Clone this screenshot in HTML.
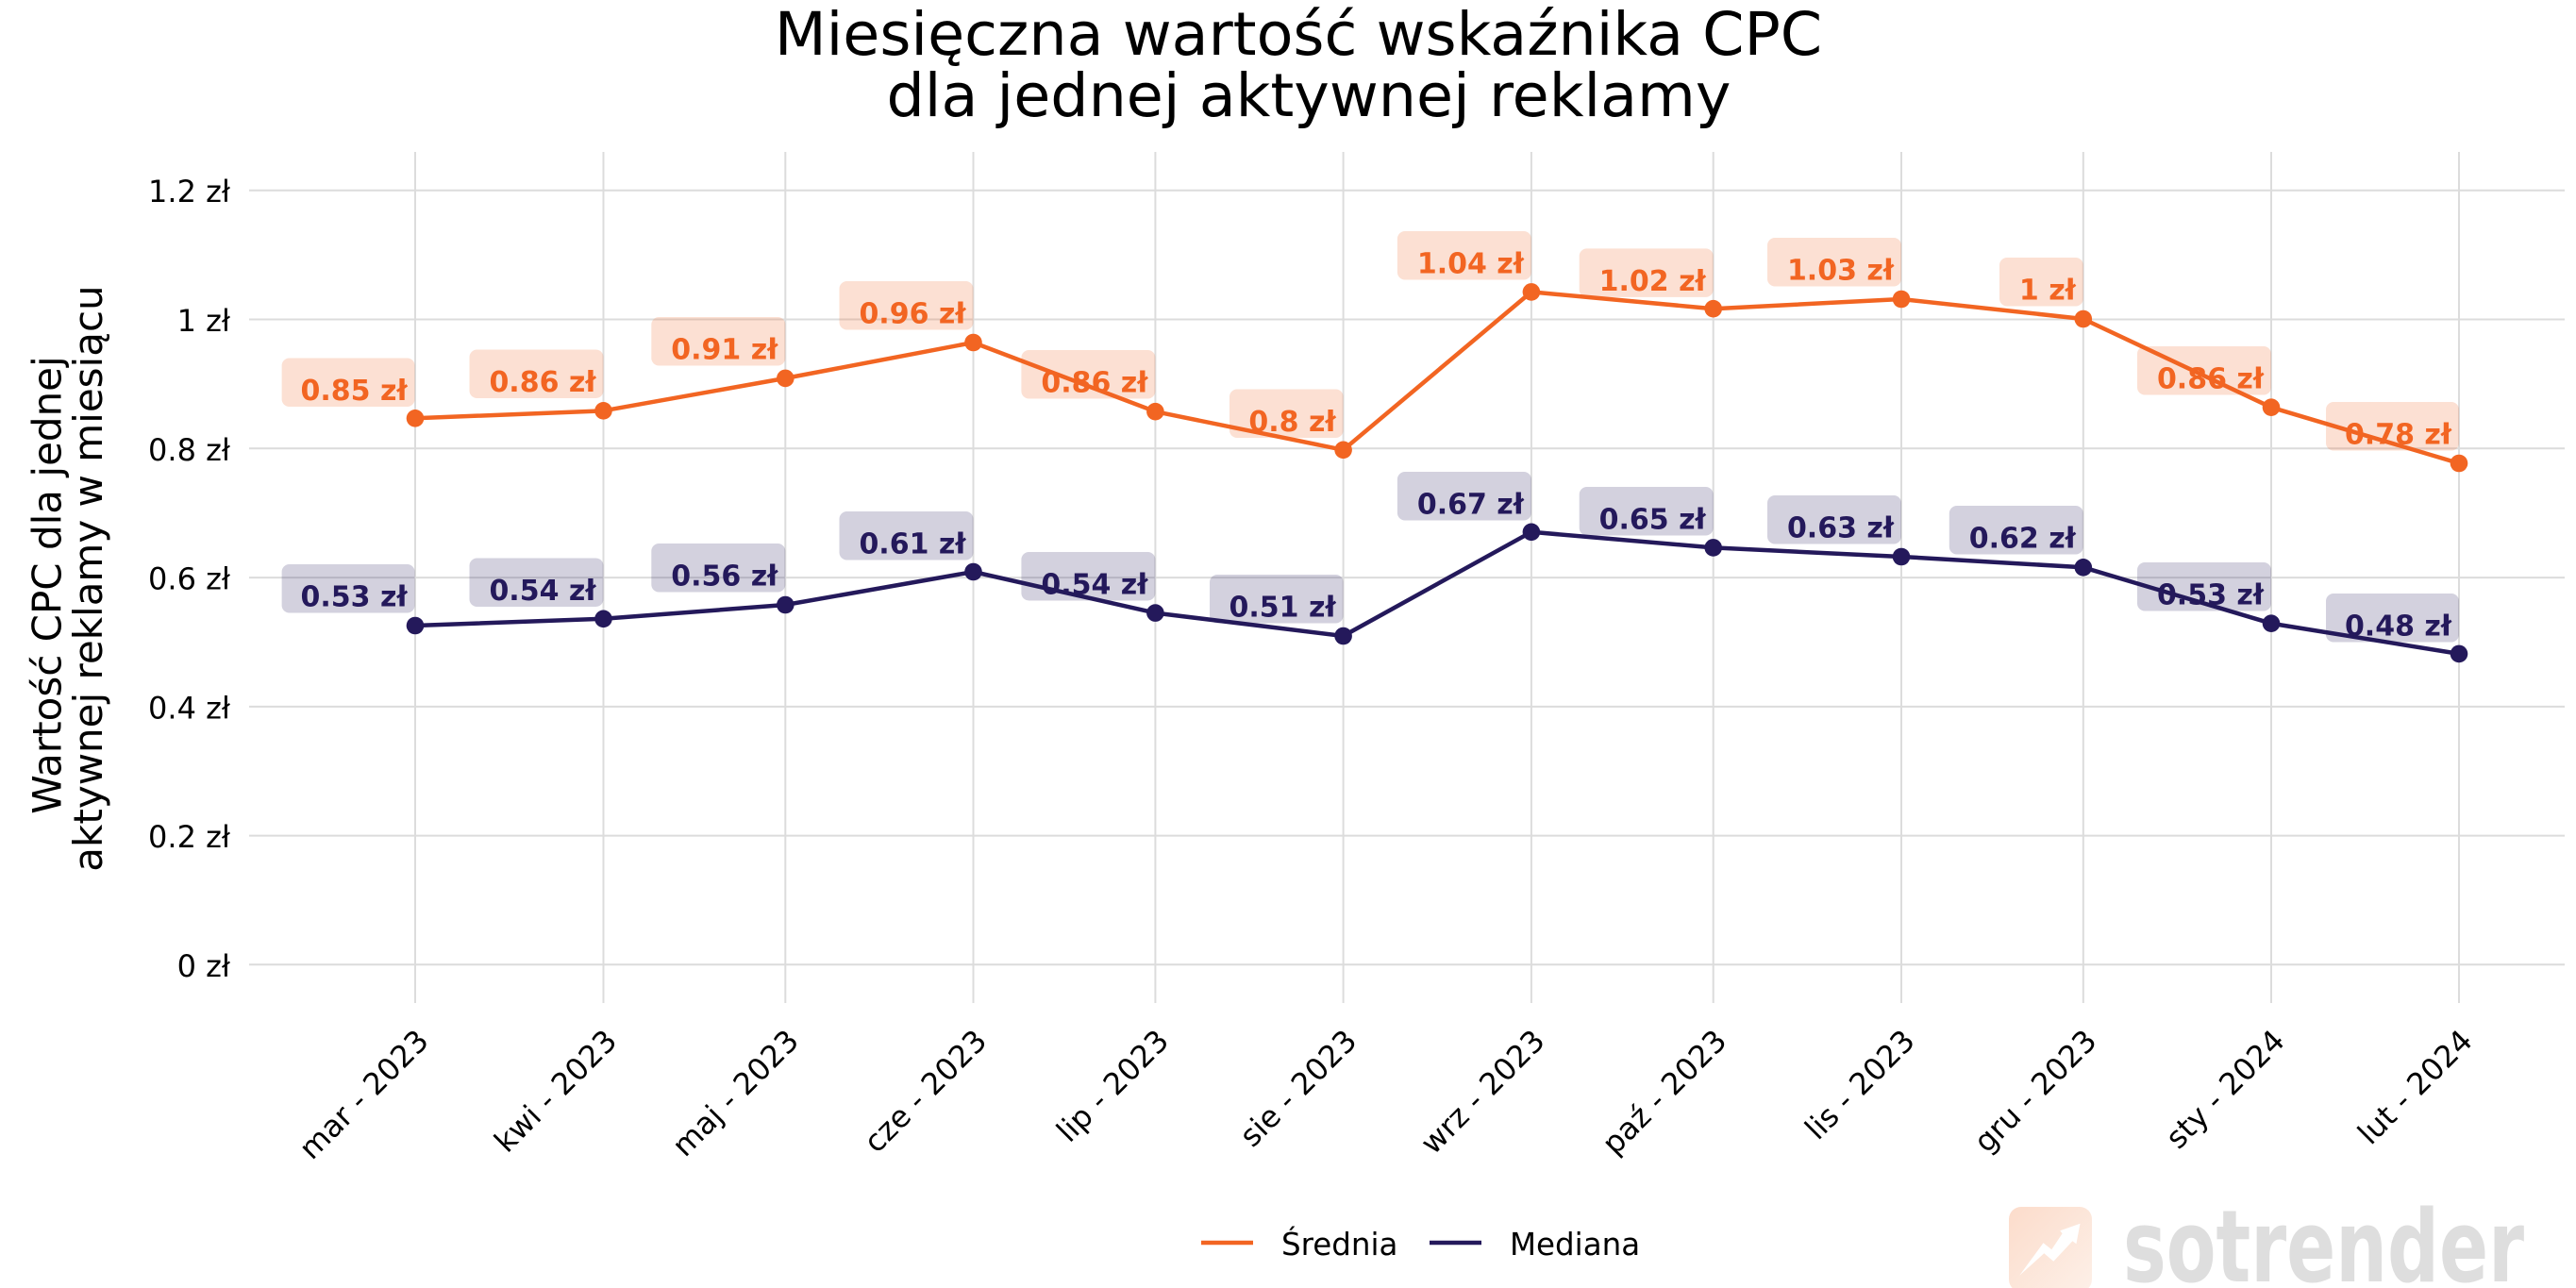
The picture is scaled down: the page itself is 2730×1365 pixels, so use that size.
<!DOCTYPE html>
<html>
<head>
<meta charset="utf-8">
<style>
  html,body{margin:0;padding:0;background:#fff;}
  svg{display:block;}
  text{font-family:"DejaVu Sans","Liberation Sans",sans-serif;}
</style>
</head>
<body>
<svg xmlns="http://www.w3.org/2000/svg" width="2730" height="1365" viewBox="0 0 2730 1365">
  <rect x="0" y="0" width="2730" height="1365" fill="#ffffff"/>
  <defs>
    <linearGradient id="lg" x1="0" y1="0" x2="1" y2="1">
      <stop offset="0" stop-color="#fcdccb"/>
      <stop offset="1" stop-color="#fdf0e8"/>
    </linearGradient>
  </defs>

  <!-- Title -->
  <text x="1376" y="58" font-size="63.5" text-anchor="middle" fill="#000">Miesięczna wartość wskaźnika CPC</text>
  <text x="1387" y="123" font-size="63.5" text-anchor="middle" fill="#000">dla jednej aktywnej reklamy</text>

  <!-- Y axis label -->
  <text transform="translate(64.5,620) rotate(-90)" font-size="42" text-anchor="middle" fill="#000">Wartość CPC dla jednej</text>
  <text transform="translate(108,613) rotate(-90)" font-size="42" text-anchor="middle" fill="#000">aktywnej reklamy w miesiącu</text>

  <!-- Horizontal gridlines -->
  <g stroke="#dcdcdc" stroke-width="2">
    <line x1="264" y1="201.7" x2="2718" y2="201.7"/>
    <line x1="264" y1="338.5" x2="2718" y2="338.5"/>
    <line x1="264" y1="475.3" x2="2718" y2="475.3"/>
    <line x1="264" y1="612.1" x2="2718" y2="612.1"/>
    <line x1="264" y1="748.9" x2="2718" y2="748.9"/>
    <line x1="264" y1="885.6" x2="2718" y2="885.6"/>
    <line x1="264" y1="1022.3" x2="2718" y2="1022.3"/>
  </g>
  <!-- Vertical gridlines -->
  <g stroke="#dcdcdc" stroke-width="2">
    <line x1="440" y1="161" x2="440" y2="1063"/>
    <line x1="639.5" y1="161" x2="639.5" y2="1063"/>
    <line x1="832.3" y1="161" x2="832.3" y2="1063"/>
    <line x1="1031.5" y1="161" x2="1031.5" y2="1063"/>
    <line x1="1224.4" y1="161" x2="1224.4" y2="1063"/>
    <line x1="1423.6" y1="161" x2="1423.6" y2="1063"/>
    <line x1="1622.9" y1="161" x2="1622.9" y2="1063"/>
    <line x1="1815.7" y1="161" x2="1815.7" y2="1063"/>
    <line x1="2015" y1="161" x2="2015" y2="1063"/>
    <line x1="2207.8" y1="161" x2="2207.8" y2="1063"/>
    <line x1="2407" y1="161" x2="2407" y2="1063"/>
    <line x1="2606" y1="161" x2="2606" y2="1063"/>
  </g>

  <!-- Y tick labels -->
  <g font-size="32" text-anchor="end" fill="#000">
    <text x="244" y="214.2">1.2 zł</text>
    <text x="244" y="351">1 zł</text>
    <text x="244" y="487.8">0.8 zł</text>
    <text x="244" y="624.6">0.6 zł</text>
    <text x="244" y="761.4">0.4 zł</text>
    <text x="244" y="898.1">0.2 zł</text>
    <text x="244" y="1034.8">0 zł</text>
  </g>

  <!-- X tick labels -->
  <g font-size="32" text-anchor="end" fill="#000">
    <text transform="translate(456,1105) rotate(-45)">mar - 2023</text>
    <text transform="translate(655.5,1105) rotate(-45)">kwi - 2023</text>
    <text transform="translate(848.3,1105) rotate(-45)">maj - 2023</text>
    <text transform="translate(1047.5,1105) rotate(-45)">cze - 2023</text>
    <text transform="translate(1240.4,1105) rotate(-45)">lip - 2023</text>
    <text transform="translate(1439.6,1105) rotate(-45)">sie - 2023</text>
    <text transform="translate(1638.9,1105) rotate(-45)">wrz - 2023</text>
    <text transform="translate(1831.7,1105) rotate(-45)">paź - 2023</text>
    <text transform="translate(2031,1105) rotate(-45)">lis - 2023</text>
    <text transform="translate(2223.8,1105) rotate(-45)">gru - 2023</text>
    <text transform="translate(2423,1105) rotate(-45)">sty - 2024</text>
    <text transform="translate(2622,1105) rotate(-45)">lut - 2024</text>
  </g>

  <!-- Series lines -->
  <polyline fill="none" stroke="#f26522" stroke-width="4.5" stroke-linejoin="round"
    points="440,443.3 639.5,435.3 832.3,400.9 1031.5,363 1224.4,436.2 1423.6,476.8 1622.9,309.4 1815.7,327.2 2015,317 2207.8,338 2407,431.7 2606,491"/>
  <polyline fill="none" stroke="#24195b" stroke-width="4.5" stroke-linejoin="round"
    points="440,663 639.5,655.8 832.3,641 1031.5,606 1224.4,649.6 1423.6,674 1622.9,563.8 1815.7,580.4 2015,590 2207.8,601.3 2407,660.7 2606,692.9"/>
  <g fill="#f26522">
    <circle cx="440" cy="443.3" r="9.3"/>
    <circle cx="639.5" cy="435.3" r="9.3"/>
    <circle cx="832.3" cy="400.9" r="9.3"/>
    <circle cx="1031.5" cy="363" r="9.3"/>
    <circle cx="1224.4" cy="436.2" r="9.3"/>
    <circle cx="1423.6" cy="476.8" r="9.3"/>
    <circle cx="1622.9" cy="309.4" r="9.3"/>
    <circle cx="1815.7" cy="327.2" r="9.3"/>
    <circle cx="2015" cy="317" r="9.3"/>
    <circle cx="2207.8" cy="338" r="9.3"/>
    <circle cx="2407" cy="431.7" r="9.3"/>
    <circle cx="2606" cy="491" r="9.3"/>
  </g>
  <g fill="#24195b">
    <circle cx="440" cy="663" r="9.3"/>
    <circle cx="639.5" cy="655.8" r="9.3"/>
    <circle cx="832.3" cy="641" r="9.3"/>
    <circle cx="1031.5" cy="606" r="9.3"/>
    <circle cx="1224.4" cy="649.6" r="9.3"/>
    <circle cx="1423.6" cy="674" r="9.3"/>
    <circle cx="1622.9" cy="563.8" r="9.3"/>
    <circle cx="1815.7" cy="580.4" r="9.3"/>
    <circle cx="2015" cy="590" r="9.3"/>
    <circle cx="2207.8" cy="601.3" r="9.3"/>
    <circle cx="2407" cy="660.7" r="9.3"/>
    <circle cx="2606" cy="692.9" r="9.3"/>
  </g>

  <!-- Orange label boxes -->
  <g fill="#f26522" fill-opacity="0.2">
    <rect x="298.6" y="379.5" width="141" height="51.5" rx="8"/>
    <rect x="497.5" y="370.5" width="142" height="51.5" rx="8"/>
    <rect x="690.3" y="336" width="142" height="51.5" rx="8"/>
    <rect x="889.5" y="298" width="142" height="51.5" rx="8"/>
    <rect x="1082.4" y="371" width="142" height="51.5" rx="8"/>
    <rect x="1303" y="412.5" width="120.6" height="51.5" rx="8"/>
    <rect x="1480.9" y="245" width="142" height="51.5" rx="8"/>
    <rect x="1673.7" y="263.4" width="142" height="51.5" rx="8"/>
    <rect x="1873" y="252" width="142" height="51.5" rx="8"/>
    <rect x="2119" y="273" width="88.8" height="51.5" rx="8"/>
    <rect x="2265" y="367" width="142" height="51.5" rx="8"/>
    <rect x="2465" y="426" width="141" height="51.5" rx="8"/>
  </g>
  <!-- Purple label boxes -->
  <g fill="#24195b" fill-opacity="0.2">
    <rect x="298.6" y="598" width="141" height="51.5" rx="8"/>
    <rect x="497.5" y="591.5" width="142" height="51.5" rx="8"/>
    <rect x="690.3" y="576" width="142" height="51.5" rx="8"/>
    <rect x="889.5" y="542" width="142" height="51.5" rx="8"/>
    <rect x="1082.4" y="585" width="142" height="51.5" rx="8"/>
    <rect x="1282" y="609" width="141.6" height="51.5" rx="8"/>
    <rect x="1480.9" y="500" width="142" height="51.5" rx="8"/>
    <rect x="1673.7" y="516" width="142" height="51.5" rx="8"/>
    <rect x="1873" y="525" width="142" height="51.5" rx="8"/>
    <rect x="2065.8" y="536" width="142" height="51.5" rx="8"/>
    <rect x="2265" y="596" width="142" height="51.5" rx="8"/>
    <rect x="2465" y="629" width="141" height="51.5" rx="8"/>
  </g>

  <!-- Orange label texts -->
  <g font-size="30" font-weight="bold" text-anchor="end" fill="#f26522">
    <text x="431.6" y="424">0.85 zł</text>
    <text x="631.5" y="415">0.86 zł</text>
    <text x="824.3" y="380.5">0.91 zł</text>
    <text x="1023.5" y="342.5">0.96 zł</text>
    <text x="1216.4" y="415.5">0.86 zł</text>
    <text x="1415.6" y="457">0.8 zł</text>
    <text x="1614.9" y="289.5">1.04 zł</text>
    <text x="1807.7" y="308">1.02 zł</text>
    <text x="2007" y="296.5">1.03 zł</text>
    <text x="2199.8" y="317.5">1 zł</text>
    <text x="2399" y="411.5">0.86 zł</text>
    <text x="2598" y="470.5">0.78 zł</text>
  </g>
  <!-- Purple label texts -->
  <g font-size="30" font-weight="bold" text-anchor="end" fill="#24195b">
    <text x="431.6" y="642.5">0.53 zł</text>
    <text x="631.5" y="636">0.54 zł</text>
    <text x="824.3" y="620.5">0.56 zł</text>
    <text x="1023.5" y="586.5">0.61 zł</text>
    <text x="1216.4" y="629.5">0.54 zł</text>
    <text x="1415.6" y="653.5">0.51 zł</text>
    <text x="1614.9" y="544.5">0.67 zł</text>
    <text x="1807.7" y="560.5">0.65 zł</text>
    <text x="2007" y="569.5">0.63 zł</text>
    <text x="2199.8" y="580.5">0.62 zł</text>
    <text x="2399" y="640.5">0.53 zł</text>
    <text x="2598" y="673.5">0.48 zł</text>
  </g>

  <!-- Legend -->
  <line x1="1273" y1="1317" x2="1328" y2="1317" stroke="#f26522" stroke-width="4.5"/>
  <text x="1358" y="1330" font-size="32.5" fill="#000">Średnia</text>
  <line x1="1515" y1="1317" x2="1570" y2="1317" stroke="#24195b" stroke-width="4.5"/>
  <text x="1600" y="1330" font-size="32.5" fill="#000">Mediana</text>

  <!-- Watermark logo -->
  <rect x="2129" y="1279" width="88" height="90" rx="13" fill="url(#lg)"/>
  <polygon fill="#ffffff" points="2140.2,1351.7 2165.5,1317.3 2174.3,1324.3 2185.6,1307.3 2183.2,1304.3 2204.5,1296.7 2200.4,1318.3 2196.4,1315.3 2176.3,1336.7 2166.3,1328.3"/>
  <text x="2250" y="1358" font-family="Liberation Sans, sans-serif" font-weight="bold" font-size="106" fill="#dedede" textLength="425" lengthAdjust="spacingAndGlyphs">sotrender</text>
</svg>
</body>
</html>
